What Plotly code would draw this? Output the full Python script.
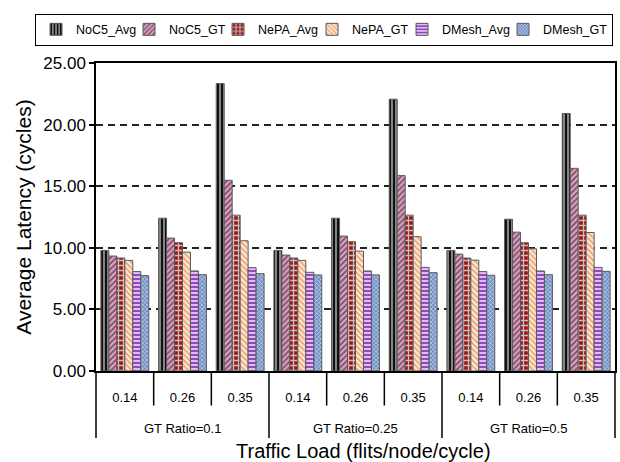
import plotly.graph_objects as go

groups = ["GT Ratio=0.1"] * 3 + ["GT Ratio=0.25"] * 3 + ["GT Ratio=0.5"] * 3
loads = ["0.14", "0.26", "0.35"] * 3

series_names = ["NoC5_Avg", "NoC5_GT", "NePA_Avg", "NePA_GT", "DMesh_Avg", "DMesh_GT"]
noc5_avg = [9.79, 12.40, 23.33, 9.79, 12.40, 22.06, 9.79, 12.32, 20.90]
noc5_gt = [9.33, 10.79, 15.48, 9.41, 10.95, 15.86, 9.49, 11.27, 16.45]
nepa_avg = [9.17, 10.41, 12.65, 9.17, 10.49, 12.65, 9.17, 10.41, 12.65]
nepa_gt = [8.98, 9.65, 10.57, 8.98, 9.73, 10.90, 9.00, 9.92, 11.24]
dmesh_avg = [8.07, 8.12, 8.39, 8.01, 8.12, 8.41, 8.07, 8.12, 8.41]
dmesh_gt = [7.74, 7.82, 7.90, 7.80, 7.80, 7.98, 7.77, 7.82, 8.09]
values = [noc5_avg, noc5_gt, nepa_avg, nepa_gt, dmesh_avg, dmesh_gt]

# unique category ids (group + load), labelled with the load only
cat_ids = [g + " | " + l for g, l in zip(groups, loads)]

styles = [
    dict(shape="|", bg="#858585", fg="#111111", size=4, sol=0.5, lw=48),
    dict(shape="/", bg="#cdaabd", fg="#8e4470", size=4, sol=0.45, lw=44),
    dict(shape="+", bg="#a01414", fg="#c2c2c2", size=5, sol=0.45, lw=49),
    dict(shape="\\", bg="#f8f0c8", fg="#f29a86", size=4, sol=0.45, lw=45),
    dict(shape="-", bg="#9447c2", fg="#e6cdf2", size=4, sol=0.45, lw=56),
    dict(shape="x", bg="#7090c4", fg="#cad8ee", size=3, sol=0.4, lw=64),
]

fig = go.Figure()
for name, vals, st in zip(series_names, values, styles):
    fig.add_trace(go.Bar(
        name=name,
        x=cat_ids,
        y=vals,
        legendwidth=st["lw"],
        marker=dict(
            color=st["bg"],
            line=dict(color="#5a5a5a", width=1),
            pattern=dict(shape=st["shape"], bgcolor=st["bg"], fgcolor=st["fg"],
                         size=st["size"], solidity=st["sol"], fillmode="replace"),
        ),
    ))

font_family = "Liberation Sans, Arial, sans-serif"
plot_h = 462 - 63 - 91  # px height of plot area

shapes = []
n = len(cat_ids)
for k in range(n + 1):
    is_group_edge = (k == 0 or k == n or groups[k] != groups[k - 1])
    depth = 67 if is_group_edge else 34.5
    shapes.append(dict(
        type="line", xref="paper", yref="paper",
        x0=k / n, x1=k / n, y0=0, y1=-depth / plot_h,
        line=dict(color="black", width=1.5),
    ))

annotations = []
seen = []
for g in groups:
    if g not in seen:
        seen.append(g)
for g in seen:
    idx = [i for i, gg in enumerate(groups) if gg == g]
    annotations.append(dict(
        text=g, xref="x", yref="paper",
        x=sum(idx) / len(idx), y=-57 / plot_h,
        showarrow=False, font=dict(size=13), yanchor="middle",
    ))
annotations.append(dict(
    text="Traffic Load (flits/node/cycle)", xref="paper", yref="paper",
    x=0.516, y=-80 / plot_h, showarrow=False, font=dict(size=20),
    xanchor="center", yanchor="middle",
))

fig.update_layout(
    width=620, height=462,
    margin=dict(l=96, r=5, t=63, b=91),
    paper_bgcolor="white", plot_bgcolor="white",
    barmode="group", bargap=0.17, bargroupgap=0,
    font=dict(family=font_family, color="black", size=13),
    legend=dict(
        orientation="h", x=-0.1175, xanchor="left", y=1.16, yanchor="top",
        bordercolor="black", borderwidth=1, font=dict(size=12.5),
        itemwidth=30, tracegroupgap=0,
    ),
    showlegend=True,
    shapes=shapes,
    annotations=annotations,
)
fig.update_xaxes(
    type="category", categoryorder="array", categoryarray=cat_ids,
    tickvals=cat_ids, ticktext=loads,
    showline=True, linecolor="black", linewidth=1.5, mirror=True,
    ticks="", ticklabelstandoff=14,
    tickfont=dict(size=13),
    automargin=False,
)
fig.update_yaxes(
    range=[0, 25], dtick=5, tickformat=".2f",
    showline=True, linecolor="black", linewidth=1.5, mirror=True,
    ticks="outside", ticklen=5, tickcolor="black", tickwidth=1.5,
    showgrid=True, gridcolor="#222222", griddash="7px,5px", gridwidth=1.5,
    zeroline=False,
    tickfont=dict(size=17),
    title=dict(text="Average Latency (cycles)", font=dict(size=21), standoff=6),
    automargin=False,
)

fig.write_html("out.html", config={"displayModeBar": False},
               post_script="document.body.style.margin='0px';")
